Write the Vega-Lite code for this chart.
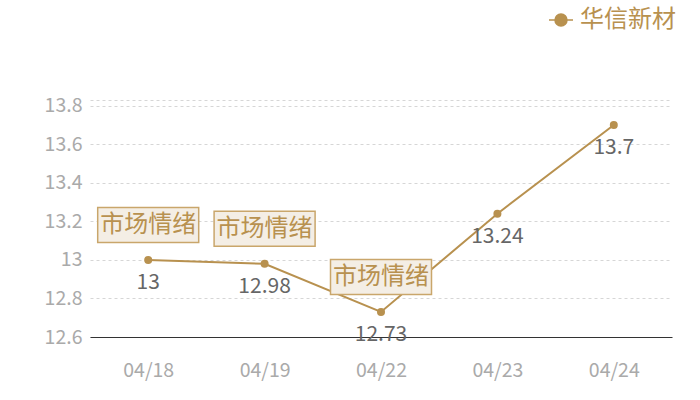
{
  "$schema": "https://vega.github.io/schema/vega-lite/v6.json",
  "width": 582,
  "height": 237,
  "autosize": {"type": "none"},
  "padding": {"left": 90, "top": 100, "right": 28, "bottom": 63},
  "data": {
    "values": [
      {"date": "04/18", "value": 13, "series": "华信新材", "note": "市场情绪"},
      {"date": "04/19", "value": 12.98, "series": "华信新材", "note": "市场情绪"},
      {"date": "04/22", "value": 12.73, "series": "华信新材", "note": "市场情绪"},
      {"date": "04/23", "value": 13.24, "series": "华信新材", "note": ""},
      {"date": "04/24", "value": 13.7, "series": "华信新材", "note": ""}
    ]
  },
  "encoding": {
    "x": {
      "field": "date",
      "type": "ordinal",
      "scale": {"type": "point", "padding": 0.5},
      "axis": {
        "title": null,
        "labelAngle": 0,
        "ticks": false,
        "grid": false,
        "domainColor": "#333333",
        "labelColor": "#aaaaaa",
        "labelFontSize": 19.5,
        "labelPadding": 24
      }
    },
    "y": {
      "field": "value",
      "type": "quantitative",
      "scale": {"domain": [12.6, 13.83], "nice": false, "zero": false},
      "axis": {
        "title": null,
        "domain": false,
        "ticks": false,
        "grid": true,
        "gridDash": [3, 3],
        "gridColor": "#d6d6d6",
        "labelColor": "#aaaaaa",
        "labelFontSize": 19.5,
        "labelPadding": 8,
        "labelOverlap": false,
        "tickCount": 8,
        "values": [12.6, 12.8, 13, 13.2, 13.4, 13.6, 13.8, 13.83],
        "labelExpr": "datum.value > 13.81 ? '' : format(datum.value, '.1~f')"
      }
    }
  },
  "layer": [
    {
      "mark": {"type": "line", "strokeWidth": 2},
      "encoding": {
        "color": {
          "field": "series",
          "type": "nominal",
          "scale": {"range": ["#b8914f"]},
          "legend": {
            "title": null,
            "orient": "none",
            "legendX": 458,
            "legendY": -93,
            "symbolType": "M-1,0 L1,0 M0.5,0 A0.5,0.5 0 1,1 -0.5,0 A0.5,0.5 0 1,1 0.5,0",
            "symbolSize": 576,
            "symbolStrokeWidth": 1.5,
            "symbolFillColor": "#b8914f",
            "symbolStrokeColor": "#b8914f",
            "labelFontSize": 24,
            "labelColor": "#b8914f",
            "labelOffset": 6
          }
        }
      }
    },
    {
      "mark": {"type": "circle", "size": 64, "opacity": 1, "color": "#b8914f"}
    },
    {
      "mark": {"type": "text", "dy": 23, "fontSize": 21, "color": "#666666"},
      "encoding": {
        "text": {"field": "value", "type": "quantitative", "format": "~g"}
      }
    },
    {
      "transform": [{"filter": "datum.note != ''"}],
      "mark": {"type": "rect", "width": 101, "height": 35, "yOffset": -35, "fill": "#f4eee5", "stroke": "#c9a66b", "strokeWidth": 1.5}
    },
    {
      "transform": [{"filter": "datum.note != ''"}],
      "mark": {"type": "text", "dy": -35, "fontSize": 24, "color": "#b8914f"},
      "encoding": {
        "text": {"field": "note"}
      }
    }
  ],
  "config": {
    "font": "Noto Sans CJK SC",
    "view": {"stroke": null}
  }
}
